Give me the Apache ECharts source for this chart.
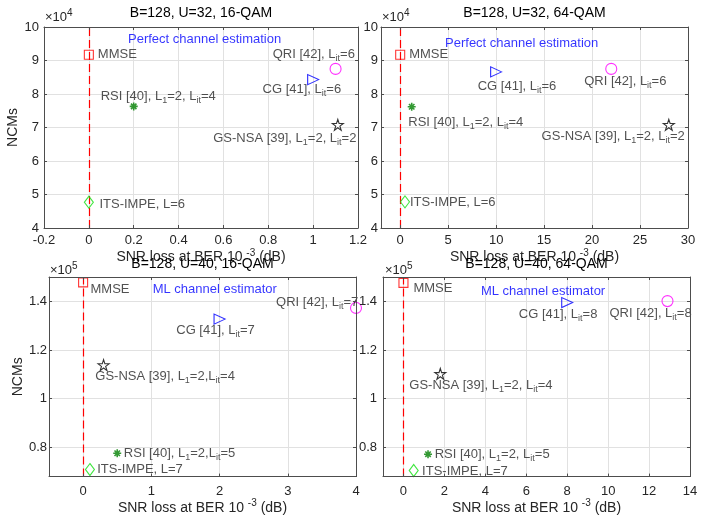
<!DOCTYPE html>
<html><head><meta charset="utf-8">
<script src="https://cdn.jsdelivr.net/npm/echarts@6/dist/echarts.min.js"></script>
<style>html,body{margin:0;padding:0;background:#fff}#c{width:712px;height:516px}</style>
</head><body><div id="c"></div>
<script>
// ---------- data ----------
const methods = ['MMSE', 'ITS-IMPE', 'RSI', 'GS-NSA', 'CG', 'QRI'];
const panelTitles = ['B=128, U=32, 16-QAM', 'B=128, U=32, 64-QAM', 'B=128, U=40, 16-QAM', 'B=128, U=40, 64-QAM'];
const notes = ['Perfect channel estimation', 'Perfect channel estimation', 'ML channel estimator', 'ML channel estimator'];
const xAxisTitle = 'SNR loss at BER 10 ^-3 (dB)';
const yAxisTitle = 'NCMs';

// SNR loss (dB) and NCMs per panel, in the order of `methods`
const snrA = [0, 0, 0.2, 1.11, 1.0, 1.1];
const ncmA = [91700, 47700, 76300, 70800, 84300, 87500];
const snrB = [0, 0.5, 1.2, 28, 10, 22];
const ncmB = [91700, 47800, 76200, 70800, 86600, 87500];
const snrC = [0, 0.1, 0.5, 0.3, 2.0, 4.0];
const ncmC = [147800, 70900, 77600, 113800, 132700, 137300];
const snrD = [0, 0.5, 1.2, 1.8, 8.0, 12.9];
const ncmD = [147600, 70500, 77200, 110200, 139500, 140100];

const labelsA = ['MMSE', 'ITS-IMPE, L=6', 'RSI [40], L_1=2, L_it=4', 'GS-NSA [39], L_1=2, L_it=2', 'CG [41], L_it=6', 'QRI [42], L_it=6'];
const labelsB = ['MMSE', 'ITS-IMPE, L=6', 'RSI [40], L_1=2, L_it=4', 'GS-NSA [39], L_1=2, L_it=2', 'CG [41], L_it=6', 'QRI [42], L_it=6'];
const labelsC = ['MMSE', 'ITS-IMPE, L=7', 'RSI [40], L_1=2,L_it=5', 'GS-NSA [39], L_1=2,L_it=4', 'CG [41], L_it=7', 'QRI [42], L_it=7'];
const labelsD = ['MMSE', 'ITS-IMPE, L=7', 'RSI [40], L_1=2, L_it=5', 'GS-NSA [39], L_1=2, L_it=4', 'CG [41], L_it=8', 'QRI [42], L_it=8'];

const xTicksA = [-0.2, 0, 0.2, 0.4, 0.6, 0.8, 1, 1.2];
const xTicksB = [0, 5, 10, 15, 20, 25, 30];
const xTicksC = [0, 1, 2, 3, 4];
const xTicksD = [0, 2, 4, 6, 8, 10, 12, 14];
const yTicksTop = [40000, 50000, 60000, 70000, 80000, 90000, 100000];
const yTicksBottom = [80000, 100000, 120000, 140000];

// ---------- layout / style ----------
const FONT = 'Liberation Sans, Arial, Helvetica, sans-serif';
const TXT = '#262626';
const panels = [
  {snr: snrA, ncm: ncmA, labels: labelsA, xt: xTicksA, yt: yTicksTop, xmin: -0.2, xmax: 1.2, ymin: 40000, ymax: 100000, yScale: 1e4, exp: '4',
   grid: {left: 44, top: 27, width: 314, height: 201}, ylm: 5, nameY: true, yGap: 19, xLM: 6, xGap: 17,
   note: [0.516, 96200], expPos: [45, 8], titleTop: 6,
   lab: [['left', 9, 0], ['left', 10.6, 2.7], ['left', -33, -9.5], ['right', 18.6, 13.3], ['right', 28, 10], ['right', 19.3, -14.4]]},
  {snr: snrB, ncm: ncmB, labels: labelsB, xt: xTicksB, yt: yTicksTop, xmin: -2, xmax: 30, ymin: 40000, ymax: 100000, yScale: 1e4, exp: '4',
   grid: {left: 381, top: 27, width: 307, height: 201}, ylm: 3, nameY: false, xLM: 6, xGap: 17,
   note: [12.66, 95200], expPos: [382, 8], titleTop: 6,
   lab: [['left', 9, 0], ['left', 5, 1], ['left', -3.4, 15.7], ['right', 16, 12], ['left', -18.4, 14.3], ['left', -27, 13]]},
  {snr: snrC, ncm: ncmC, labels: labelsC, xt: xTicksC, yt: yTicksBottom, xmin: -0.5, xmax: 4, ymin: 68000, ymax: 150000, yScale: 1e5, exp: '5',
   grid: {left: 49, top: 277, width: 307, height: 203}, ylm: 2, nameY: true, yGap: 23, xLM: 8, xGap: 15,
   note: [1.93, 145100], expPos: [50, 261], titleTop: 257,
   lab: [['left', 7.4, 6.7], ['left', 7.3, -0.6], ['left', 6.6, 0], ['left', -8.3, 11.7], ['left', -43.3, 11.7], ['right', 2.3, -5]]},
  {snr: snrD, ncm: ncmD, labels: labelsD, xt: xTicksD, yt: yTicksBottom, xmin: -1, xmax: 14, ymin: 68000, ymax: 150000, yScale: 1e5, exp: '5',
   grid: {left: 383, top: 277, width: 307, height: 203}, ylm: 6, nameY: false, xLM: 8, xGap: 15,
   note: [6.82, 144000], expPos: [385, 261], titleTop: 257,
   lab: [['left', 10, 5.7], ['left', 8.4, 0.7], ['left', 6.6, 0], ['left', -31, 11.6], ['left', -48.4, 11.7], ['left', -58, 12.3]]}
];

const STAR = 'path://M10,0L12.245,6.91L19.511,6.91L13.633,11.18L15.878,18.09L10,13.82L4.122,18.09L6.367,11.18L0.489,6.91L7.755,6.91Z';
const AST = 'path://M5,0L5,10M0,5L10,5M1.6,1.6L8.4,8.4M8.4,1.6L1.6,8.4';
const markerStyle = {
  'MMSE':     {symbol: 'rect', size: 9, color: '#ff0000', rotate: 0},
  'ITS-IMPE': {symbol: 'diamond', size: [9, 12], color: '#10e010', rotate: 0},
  'RSI':      {symbol: AST, size: 8, color: '#008000', rotate: 0, width: 1.6},
  'GS-NSA':   {symbol: STAR, size: 11, color: '#000000', rotate: 0},
  'CG':       {symbol: 'triangle', size: [10, 11], color: '#0000ff', rotate: -90},
  'QRI':      {symbol: 'circle', size: 11, color: '#ff00ff', rotate: 0}
};

const richLabel = {
  t: {fontSize: 13, fontFamily: FONT, color: TXT},
  s: {fontSize: 9, fontFamily: FONT, color: TXT, padding: [8, 0, 0, 0]}
};
function toRich(str) {
  return '{t|' + str.replace(/_(\w+)/g, '}{s|$1}{t|') + '}';
}
const richAxisName = {
  n: {fontSize: 14, fontFamily: FONT, color: TXT},
  p: {fontSize: 10, fontFamily: FONT, color: TXT, padding: [0, 0, 9, 0]}
};
function axisNameRich(str) {
  return '{n|' + str.replace(/\^(\S+)/g, '}{p|$1}{n|') + '}';
}
function fmt(v) { return String(+(+v).toFixed(2)); }

const option = {
  backgroundColor: '#fff',
  animation: false,
  textStyle: {fontFamily: FONT},
  title: [], grid: [], xAxis: [], yAxis: [], series: []
};

const AXC = '#4d4d4d';
panels.forEach((p, g) => {
  option.grid.push(Object.assign({show: false, containLabel: false}, p.grid));
  option.title.push({
    text: panelTitles[g], left: p.grid.left + p.grid.width / 2, top: p.titleTop, textAlign: 'center', padding: 0,
    textStyle: {fontSize: 14, fontWeight: 'normal', color: '#000', fontFamily: FONT}
  });
  option.title.push({
    text: '{a|×10}{b|' + p.exp + '}', left: p.expPos[0], top: p.expPos[1], padding: 0,
    textStyle: {fontWeight: 'normal', rich: {
      a: {fontSize: 13, color: TXT, fontFamily: FONT, fontWeight: 'normal'},
      b: {fontSize: 10, color: TXT, fontFamily: FONT, fontWeight: 'normal', padding: [0, 0, 8, 0]}}}
  });
  const axLine = {show: true, onZero: false, lineStyle: {color: AXC, width: 1}};
  const tick = vals => ({show: true, inside: true, length: 3, customValues: vals, lineStyle: {color: AXC}});
  // bottom x
  option.xAxis.push({
    type: 'value', gridIndex: g, position: 'bottom', min: p.xmin, max: p.xmax, z: 4,
    axisLine: axLine, axisTick: tick(p.xt),
    axisLabel: {customValues: p.xt, formatter: fmt, fontSize: 13, color: TXT, margin: p.xLM, fontFamily: FONT},
    splitLine: {show: false},
    name: axisNameRich(xAxisTitle), nameLocation: 'middle', nameGap: p.xGap,
    nameTextStyle: {rich: richAxisName}
  });
  // top x (box)
  option.xAxis.push({
    type: 'value', gridIndex: g, position: 'top', min: p.xmin, max: p.xmax, z: 4,
    axisLine: axLine, axisTick: tick(p.xt), axisLabel: {show: false}, splitLine: {show: false}
  });
  // left y
  option.yAxis.push({
    type: 'value', gridIndex: g, position: 'left', min: p.ymin, max: p.ymax, z: 4,
    axisLine: axLine, axisTick: tick(p.yt),
    axisLabel: {customValues: p.yt, formatter: v => fmt(v / p.yScale), fontSize: 13, color: TXT, margin: p.ylm, fontFamily: FONT},
    splitLine: {show: false},
    name: p.nameY ? yAxisTitle : '', nameLocation: 'middle', nameGap: p.yGap || 20,
    nameTextStyle: {fontSize: 14, color: TXT, fontFamily: FONT}
  });
  // right y (box)
  option.yAxis.push({
    type: 'value', gridIndex: g, position: 'right', min: p.ymin, max: p.ymax, z: 4,
    axisLine: axLine, axisTick: tick(p.yt), axisLabel: {show: false}, splitLine: {show: false}
  });

  // grid lines at the tick values
  option.series.push({
    type: 'scatter', xAxisIndex: 2 * g, yAxisIndex: 2 * g, data: [], silent: true, z: 0,
    markLine: {
      silent: true, symbol: 'none', label: {show: false}, animation: false, z: 0,
      lineStyle: {color: '#e1e1e1', type: 'solid', width: 1},
      data: p.xt.map(v => ({xAxis: v})).concat(p.yt.map(v => ({yAxis: v})))
    }
  });

  // annotation + red dashed reference line at zero loss
  option.series.push({
    type: 'scatter', xAxisIndex: 2 * g, yAxisIndex: 2 * g, symbolSize: 0, silent: true, z: 3,
    data: [p.note],
    label: {show: true, position: 'inside', formatter: notes[g], color: '#0000ff', fontSize: 13, fontFamily: FONT},
    markLine: {
      silent: true, symbol: 'none', label: {show: false}, animation: false, z: 1,
      lineStyle: {color: '#ff0000', type: [8, 4], width: 1.2},
      data: [{xAxis: 0}]
    }
  });

  methods.forEach((m, i) => {
    const st = markerStyle[m];
    const l = p.lab[i];
    option.series.push({
      name: m, type: 'scatter', xAxisIndex: 2 * g, yAxisIndex: 2 * g, z: 3,
      symbol: st.symbol, symbolSize: st.size, symbolRotate: st.rotate,
      itemStyle: {color: 'rgba(0,0,0,0)', borderColor: st.color, borderWidth: st.width || 1.1},
      data: [[p.snr[i], p.ncm[i]]],
      label: {
        show: true, position: 'inside', align: l[0], verticalAlign: 'middle', offset: [l[1], l[2]],
        formatter: toRich(p.labels[i]), rich: richLabel
      }
    });
  });
});

const chart = echarts.init(document.getElementById('c'), null, {renderer: 'canvas'});
chart.setOption(option);
</script>
</body></html>
